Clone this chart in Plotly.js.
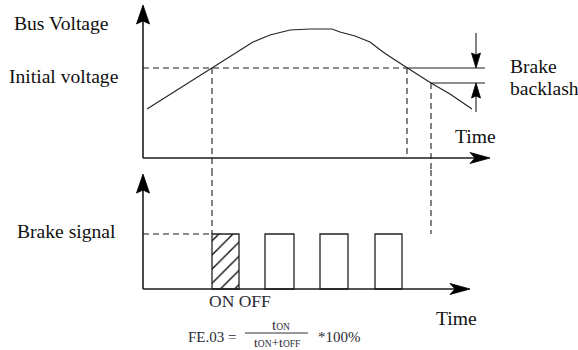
<!DOCTYPE html>
<html><head><meta charset="utf-8">
<script src="https://cdn.plot.ly/plotly-3.0.1.min.js"></script>
<style>html,body{margin:0;padding:0;background:#fff;}#chart{width:578px;height:350px;}</style>
</head><body><div id="chart"></div>
<script>
// ---- data (time units / voltage units / signal level) ----
const timeBus = [0.4, 3.7, 6.9, 11.0, 12.7, 14.7, 16.7, 18.9, 19.7, 21.2, 22.7, 24.0, 25.2, 26.4, 27.7, 28.8, 30.7, 32.9];
const busVoltage = [4.9, 7.0, 9.0, 11.6, 12.3, 12.8, 12.9, 12.9, 12.6, 12.2, 11.6, 10.6, 9.8, 9.0, 8.2, 7.5, 6.4, 4.9];
const initialVoltage = 9.0;
const backlashVoltage = 7.5;
const brakeStartTime = 6.9;
const brakeStopTime = 26.4;
const backlashTime = 28.8;
const pulseStart = [6.9, 12.2, 17.7, 23.2];
const pulseEnd = [9.6, 15.1, 20.5, 25.9];
const pulseLevel = 1;
const labelTexts = ["Bus Voltage", "Initial voltage", "Brake", "backlash", "Time", "Brake signal", "ON OFF", "Time"];

// ---- layout helpers ----
const W = 578, H = 350;
const px = v => v / W;
const py = v => 1 - v / H;
const ink = '#1c1c1c';
const font = {family: 'Liberation Serif, Times New Roman, serif', size: 19.6, color: '#111'};
const yTop = [-1.2, 15.8], yBot = [-1.109, 2.164];
const topAxisTip = {t: 34.7, v: 15.3}, botAxisTip = {t: 32.7, s: 2.09};
const arrowX = 33.3, lineEnd = 34.2;

const pulseCenter = pulseStart.map((s, i) => (s + pulseEnd[i]) / 2);
const pulseWidth = pulseStart.map((s, i) => pulseEnd[i] - s);

const traces = [
  {x: timeBus, y: busVoltage, type: 'scatter', mode: 'lines', xaxis: 'x', yaxis: 'y',
   line: {color: '#222', width: 1.1}, hoverinfo: 'skip'},
  {x: pulseCenter, y: pulseStart.map(() => pulseLevel), width: pulseWidth, base: 0,
   type: 'bar', xaxis: 'x', yaxis: 'y2', hoverinfo: 'skip',
   marker: {color: 'rgba(255,255,255,0)', line: {color: '#222', width: 1.3},
     pattern: {shape: pulseStart.map((_, i) => i === 0 ? '/' : ''), fgcolor: '#111', bgcolor: 'rgba(255,255,255,0)', size: 10, solidity: 0.14}}}
];

const dash = '6px,4px';
const L = (x0, y0, x1, y1, yref, extra) => Object.assign({type: 'line', xref: 'x', yref: yref, x0, y0, x1, y1, line: {color: ink, width: 1.1}}, extra || {});
const D = (x0, y0, x1, y1, yref) => L(x0, y0, x1, y1, yref, {line: {color: ink, width: 1.1, dash: dash}});
const head = (t, v, yref, path) => ({type: 'path', xref: 'x', yref: yref, xsizemode: 'pixel', ysizemode: 'pixel', xanchor: t, yanchor: v, path: path, fillcolor: '#000', line: {color: '#000', width: 0.8}});

const shapes = [
  // top axes
  L(0, 0, 0, topAxisTip.v - 1.2, 'y', {line: {color: ink, width: 1.6}}),
  L(0, 0, topAxisTip.t - 1.5, 0, 'y', {line: {color: ink, width: 1.6}}),
  head(0, topAxisTip.v, 'y', 'M0,0 L-6.5,-19 L0,-16 L6.5,-19 Z'),
  head(topAxisTip.t, 0, 'y', 'M0,0 L-20,-5.5 L-15,0 L-20,5.5 Z'),
  // bottom axes
  L(0, 0, 0, botAxisTip.s - 0.2, 'y2', {line: {color: ink, width: 1.6}}),
  L(0, 0, botAxisTip.t - 1.5, 0, 'y2', {line: {color: ink, width: 1.6}}),
  head(0, botAxisTip.s, 'y2', 'M0,0 L-6.5,-19 L0,-16 L6.5,-19 Z'),
  head(botAxisTip.t, 0, 'y2', 'M0,0 L-20,-5.5 L-15,0 L-20,5.5 Z'),
  // voltage levels
  D(0, initialVoltage, brakeStopTime, initialVoltage, 'y'),
  L(brakeStopTime, initialVoltage, lineEnd, initialVoltage, 'y'),
  L(backlashTime, backlashVoltage, lineEnd, backlashVoltage, 'y'),
  // backlash arrows
  L(arrowX, 12.5, arrowX, initialVoltage + 1, 'y'),
  head(arrowX, initialVoltage, 'y', 'M0,0 L-4.5,15 L0,13 L4.5,15 Z'),
  L(arrowX, 4.6, arrowX, backlashVoltage - 1, 'y'),
  head(arrowX, backlashVoltage, 'y', 'M0,0 L-4.5,-15 L0,-13 L4.5,-15 Z'),
  // vertical dashed guides
  D(brakeStartTime, initialVoltage, brakeStartTime, yTop[0], 'y'),
  D(brakeStartTime, yBot[1], brakeStartTime, pulseLevel, 'y2'),
  D(brakeStopTime, initialVoltage, brakeStopTime, 0, 'y'),
  D(backlashTime, backlashVoltage, backlashTime, yTop[0], 'y'),
  D(backlashTime, yBot[1], backlashTime, pulseLevel, 'y2'),
  // signal level guide
  D(0, pulseLevel, brakeStartTime, pulseLevel, 'y2'),
  // fraction bar
  {type: 'line', xref: 'paper', yref: 'paper', x0: px(245), x1: px(308), y0: py(333), y1: py(333), line: {color: '#333', width: 1}}
];

const A = (text, x, y, opts) => Object.assign({text, xref: 'paper', yref: 'paper', x: px(x), y: py(y), xanchor: 'left', yanchor: 'middle', showarrow: false, font: font}, opts || {});
const fF = Object.assign({}, font, {size: 15, color: '#2b2b35'});
const fS = Object.assign({}, fF, {size: 13.5});
const small = s => '<span style="font-size:9.5px">' + s + '</span>';
const annotations = [
  A(labelTexts[0], 12, 23),
  A(labelTexts[1], 7, 77),
  A(labelTexts[2], 508, 66),
  A(labelTexts[3], 508, 89),
  A(labelTexts[4], 453, 136),
  A(labelTexts[5], 15, 232),
  A(labelTexts[6], 207, 301, {font: Object.assign({}, fF, {size: 17.5})}),
  A(labelTexts[7], 434, 318),
  A('FE.03 =', 186, 337, {font: fF}),
  A('t' + small('ON'), 281, 325, {font: fF, xanchor: 'center', borderpad: 0}),
  A('t' + small('ON') + '+t' + small('OFF'), 277, 342, {font: fS, xanchor: 'center', borderpad: 0}),
  A('*100%', 316, 337, {font: fF})
];

const layout = {
  width: W, height: H, margin: {l: 0, r: 0, t: 0, b: 0},
  paper_bgcolor: '#fff', plot_bgcolor: 'rgba(0,0,0,0)', showlegend: false,
  xaxis: {range: [-14.3, 43.5], visible: false, fixedrange: true, anchor: 'y2'},
  yaxis: {range: yTop, domain: [1 - 170 / H, 1], visible: false, fixedrange: true},
  yaxis2: {range: yBot, domain: [0, 1 - 170 / H], visible: false, fixedrange: true},
  shapes, annotations
};
Plotly.newPlot('chart', traces, layout, {staticPlot: true, displayModeBar: false});
</script></body></html>
